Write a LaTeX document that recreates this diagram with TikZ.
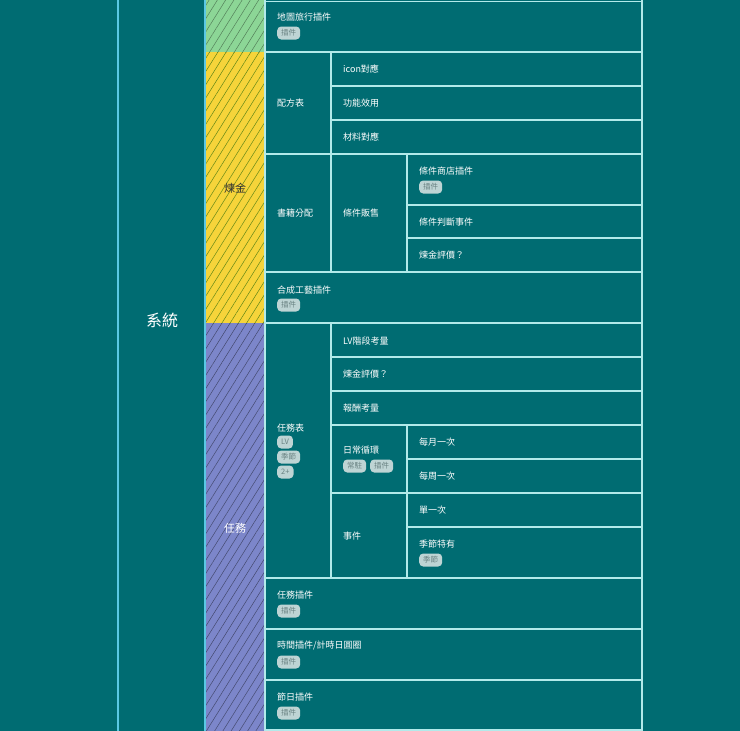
\documentclass[tikz,border=0pt]{standalone}
\usepackage{fontspec}
\newfontfamily\cjk{Noto Sans CJK TC}
\usetikzlibrary{patterns.meta}
\definecolor{bgteal}{RGB}{0,108,114}
\definecolor{gridline}{RGB}{178,234,234}
\definecolor{edgeblue}{RGB}{90,200,228}
\definecolor{mapgreen}{RGB}{140,214,150}
\definecolor{alchyellow}{RGB}{246,212,58}
\definecolor{questblue}{RGB}{124,134,202}
\definecolor{tagfill}{RGB}{190,212,212}
\definecolor{tagtext}{RGB}{105,130,130}
\tikzset{
  grid/.style={draw=gridline, line width=1.3pt},
  cell/.style={anchor=west, text=white, inner sep=0pt, font=\cjk\fontsize{9}{10}\selectfont},
  tag/.style={anchor=west, fill=tagfill, text=tagtext, rounded corners=4pt,
    inner xsep=4pt, inner ysep=1.5pt, minimum height=13pt, font=\cjk\fontsize{7.5}{8}\selectfont},
  hatch/.style={pattern={Lines[angle=58,distance=7pt,line width=.5pt]}},
}
\begin{document}
\begin{tikzpicture}[x=1pt,y=-1pt]
	\fill[bgteal] (0,0) rectangle (740,731);
	\useasboundingbox (0,0) rectangle (740,731);
	% colour column
	\fill[mapgreen] (205,0) rectangle (265,52);
	\fill[alchyellow] (205,52) rectangle (265,323);
	\fill[questblue] (205,323) rectangle (265,731);
	\fill[hatch, pattern color=mapgreen!60!black] (205,0) rectangle (265,52);
	\fill[hatch, pattern color=alchyellow!50!black!80!green] (205,52) rectangle (265,323);
	\fill[hatch, pattern color=questblue!55!black] (205,323) rectangle (265,731);
	\draw[edgeblue, line width=2pt] (118,0) -- (118,731);
	\draw[edgeblue, line width=1.5pt] (205,0) -- (205,731);
	% table
	\draw[grid] (265,1.5) -- (642,1.5);
	\draw[grid] (265,52) -- (642,52);
	\draw[grid] (331,86) -- (642,86);
	\draw[grid] (331,120) -- (642,120);
	\draw[grid] (265,154) -- (642,154);
	\draw[grid] (407,205) -- (642,205);
	\draw[grid] (407,238) -- (642,238);
	\draw[grid] (265,272) -- (642,272);
	\draw[grid] (265,323) -- (642,323);
	\draw[grid] (331,357) -- (642,357);
	\draw[grid] (331,391) -- (642,391);
	\draw[grid] (331,425) -- (642,425);
	\draw[grid] (407,459) -- (642,459);
	\draw[grid] (331,493) -- (642,493);
	\draw[grid] (407,527) -- (642,527);
	\draw[grid] (265,578) -- (642,578);
	\draw[grid] (265,629) -- (642,629);
	\draw[grid] (265,680) -- (642,680);
	\draw[grid] (265,730) -- (642,730);
	\draw[grid] (265,0) -- (265,731);
	\draw[grid] (642,0) -- (642,731);
	\draw[grid] (331,52) -- (331,272);
	\draw[grid] (331,323) -- (331,578);
	\draw[grid] (407,154) -- (407,272);
	\draw[grid] (407,425) -- (407,578);
	% big labels
	\node[text=white, font=\cjk\fontsize{16}{18}\selectfont] (sys) at (162,320) {系統};
	\node[text=black!80, font=\cjk\fontsize{11}{12}\selectfont] (alch) at (235,188) {煉金};
	\node[text=white, font=\cjk\fontsize{11}{12}\selectfont] (quest) at (235,528) {任務};
	% map
	\node[cell] (map) at (277,17) {地圖旅行插件};
	\node[tag] (maptag) at (277,33) {插件};
	% recipes
	\node[cell] (recipe) at (277,103) {配方表};
	\node[cell] (icon) at (343,69) {icon對應};
	\node[cell] (effect) at (343,103) {功能效用};
	\node[cell] (material) at (343,137) {材料對應};
	% books
	\node[cell] (books) at (277,213) {書籍分配};
	\node[cell] (sale) at (343,213) {條件販售};
	\node[cell] (shop) at (419,171) {條件商店插件};
	\node[tag] (shoptag) at (419,187) {插件};
	\node[cell] (cond) at (419,222) {條件判斷事件};
	\node[cell] (rate1) at (419,255) {煉金評價？};
	\node[cell] (craft) at (277,290) {合成工藝插件};
	\node[tag] (crafttag) at (277,305) {插件};
	% quests
	\node[cell] (qtable) at (277,428) {任務表};
	\node[tag] (lvtag) at (277,442) {LV};
	\node[tag] (seasontag) at (277,457) {季節};
	\node[tag] (twotag) at (277,472) {2+};
	\node[cell] (lv) at (343,341) {LV階段考量};
	\node[cell] (rate2) at (343,374) {煉金評價？};
	\node[cell] (reward) at (343,408) {報酬考量};
	\node[cell] (daily) at (343,450) {日常循環};
	\node[tag] (resident) at (343,466) {常駐};
	\node[tag] (dailytag) at (370,466) {插件};
	\node[cell] (monthly) at (419,442) {每月一次};
	\node[cell] (weekly) at (419,476) {每周一次};
	\node[cell] (event) at (343,536) {事件};
	\node[cell] (once) at (419,510) {單一次};
	\node[cell] (seasonal) at (419,544) {季節特有};
	\node[tag] (seasonaltag) at (419,560) {季節};
	\node[cell] (qplugin) at (277,595) {任務插件};
	\node[tag] (qplugintag) at (277,611) {插件};
	\node[cell] (time) at (277,646) {時間插件/計時日圓圈};
	\node[tag] (timetag) at (277,662) {插件};
	\node[cell] (holiday) at (277,697) {節日插件};
	\node[tag] (holidaytag) at (277,713) {插件};
\end{tikzpicture}
\end{document}
